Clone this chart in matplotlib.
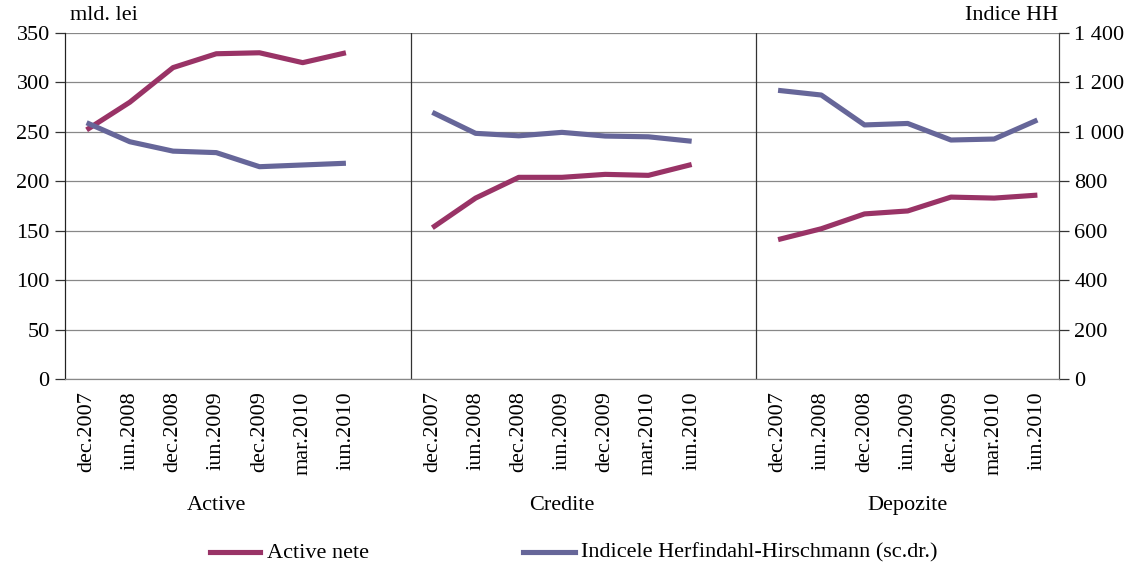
import matplotlib.pyplot as plt
import numpy as np

plt.rcParams['font.family'] = ['Liberation Serif', 'DejaVu Serif']

luni = ['dec.2007', 'iun.2008', 'dec.2008', 'iun.2009', 'dec.2009', 'mar.2010', 'iun.2010']
grupe = ['Active', 'Credite', 'Depozite']

# mld. lei
active_nete = [
    [252, 280, 315, 329, 330, 320, 330],   # Active
    [153, 183, 204, 204, 207, 206, 217],   # Credite
    [141, 152, 167, 170, 184, 183, 186],   # Depozite
]
# indicele HH (scala din dreapta)
indice_hh = [
    [1037, 960, 922, 916, 859, 866, 873],
    [1079, 994, 984, 998, 983, 980, 962],
    [1168, 1149, 1028, 1034, 967, 971, 1048],
]

rosu = '#993366'
albastru = '#666699'
fs = 16

fig = plt.figure(figsize=(11.36, 5.67), dpi=100)
ax = fig.add_axes([65 / 1136, 1 - 379 / 567, (1059 - 65) / 1136, (379 - 33) / 567])
ax2 = ax.twinx()

n = len(luni)
pas = n + 1
for g in range(len(grupe)):
    x = np.arange(n) + g * pas
    ax.plot(x, active_nete[g], color=rosu, lw=3.7, solid_capstyle='butt', zorder=3)
    ax2.plot(x, indice_hh[g], color=albastru, lw=3.7, solid_capstyle='butt', zorder=3)

# separatoare intre grupe
for g in range(1, len(grupe)):
    ax.axvline(g * pas - 0.5, color='#333333', lw=0.9, zorder=1)

ax.set_xlim(-0.5, len(grupe) * pas - 1.5)
ax.set_ylim(0, 350)
ax2.set_ylim(0, 1400)
ax.set_yticks(np.arange(0, 351, 50))
ax2.set_yticks(np.arange(0, 1401, 200))
ax2.set_yticklabels([f'{v:,}'.replace(',', ' ') for v in range(0, 1401, 200)])

ax.grid(axis='y', color='#888888', lw=0.9)
ax.set_axisbelow(True)

xt = [i + g * pas for g in range(len(grupe)) for i in range(n)]
ax.set_xticks(xt)
ax.set_xticklabels(luni * len(grupe), rotation=90, fontsize=fs)
ax.tick_params(axis='x', length=0, pad=9)
ax.tick_params(axis='y', labelsize=fs, length=7, width=0.9, color='#333333', pad=4)
ax2.tick_params(axis='y', labelsize=fs, length=7, width=0.9, color='#333333', pad=4)

for a in (ax, ax2):
    a.spines['top'].set_visible(False)
    a.spines['left'].set_color('#222222')
    a.spines['right'].set_color('#444444')
    a.spines['bottom'].set_color('#888888')

for g, nume in enumerate(grupe):
    xc = g * pas + (n - 1) / 2
    ax.text(xc, -0.365, nume, transform=ax.get_xaxis_transform(),
            ha='center', va='center', fontsize=fs)

fig.text(70 / 1136, 1 - 16 / 567, 'mld. lei', ha='left', va='center', fontsize=fs)
fig.text(1058 / 1136, 1 - 16 / 567, 'Indice HH', ha='right', va='center', fontsize=fs)

# legenda
fig.lines.append(plt.Line2D([210 / 1136, 260 / 1136], [1 - 552 / 567] * 2,
                            transform=fig.transFigure, color=rosu, lw=3.7))
fig.text(267 / 1136, 1 - 553 / 567, 'Active nete', ha='left', va='center', fontsize=fs)
fig.lines.append(plt.Line2D([523 / 1136, 575 / 1136], [1 - 552 / 567] * 2,
                            transform=fig.transFigure, color=albastru, lw=3.7))
fig.text(581 / 1136, 1 - 553 / 567, 'Indicele Herfindahl-Hirschmann (sc.dr.)',
         ha='left', va='center', fontsize=fs)

fig.savefig('out.png', dpi=100)
